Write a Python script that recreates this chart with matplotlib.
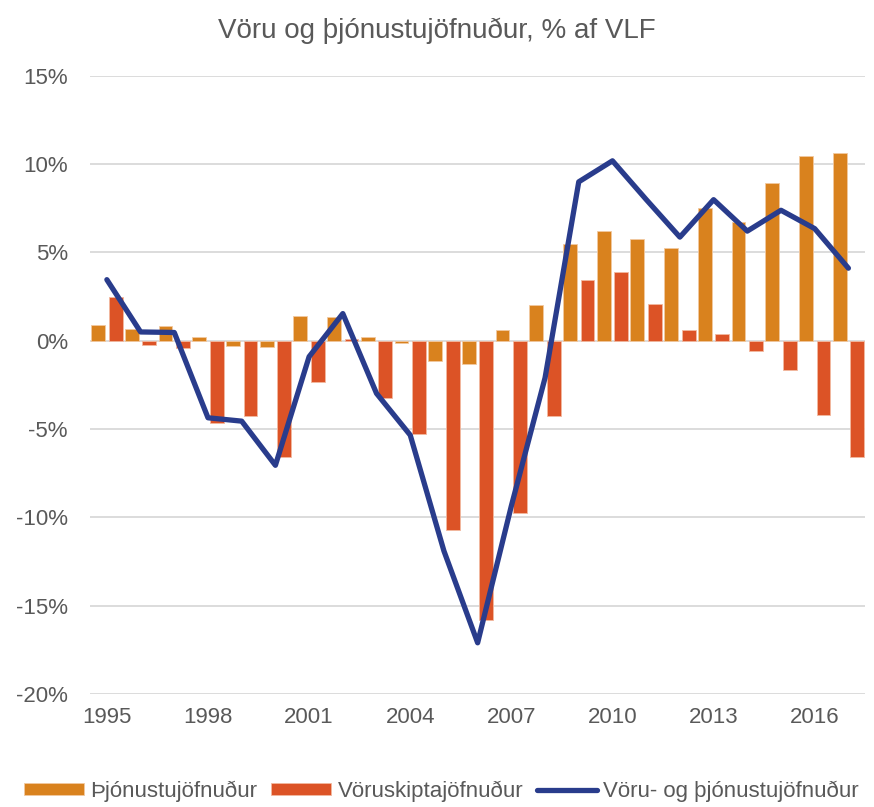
import matplotlib
matplotlib.use("Agg")
import matplotlib.pyplot as plt
import numpy as np

plt.rcParams['font.family'] = ['Liberation Sans', 'DejaVu Sans']

years = list(range(1995, 2018))
services = [0.9, 0.67, 0.82, 0.22, -0.3, -0.34, 1.42, 1.37, 0.22, -0.1, -1.15, -1.34,
            0.6, 2.04, 5.49, 6.23, 5.78, 5.27, 7.5, 6.7, 8.92, 10.49, 10.64]
goods = [2.47, -0.26, -0.43, -4.64, -4.28, -6.59, -2.35, 0.09, -3.26, -5.25, -10.7, -15.8,
         -9.76, -4.25, 3.45, 3.9, 2.1, 0.63, 0.38, -0.57, -1.63, -4.2, -6.59]
total = [3.46, 0.5, 0.47, -4.36, -4.55, -7.05, -0.9, 1.54, -2.98, -5.34, -11.9, -17.1,
         -9.35, -2.1, 9.0, 10.19, 8.0, 5.87, 7.99, 6.21, 7.39, 6.35, 4.11]
yticks = [-20, -15, -10, -5, 0, 5, 10, 15]
labels = ["Þjónustujöfnuður", "Vöruskiptajöfnuður", "Vöru- og þjónustujöfnuður"]
title = "Vöru og þjónustujöfnuður, % af VLF"

c_serv = "#D9821E"
c_goods = "#DC5326"
c_line = "#293C8C"
txt = "#595959"

fig = plt.figure(figsize=(8.74, 8.07), dpi=100)
ax = fig.add_axes([0.103, 0.140, 0.887, 0.766])

x = np.arange(len(years))
w = 0.41
off = 0.26
b1 = ax.bar(x - off, services, w, color=c_serv, edgecolor="#F2C9A0", linewidth=0.6, zorder=2, label=labels[0])
b2 = ax.bar(x + off, goods, w, color=c_goods, edgecolor="#F2B9A0", linewidth=0.6, zorder=2, label=labels[1])
ln, = ax.plot(x, total, color=c_line, linewidth=3.8, solid_joinstyle="round", solid_capstyle="round",
              zorder=3, label=labels[2])

ax.set_xlim(-0.5, len(years) - 0.5)
ax.set_ylim(-20, 15)
ax.set_yticks(yticks)
ax.set_yticklabels([f"{v}%" for v in yticks])
ax.set_xticks(x[::3])
ax.set_xticklabels([str(y) for y in years[::3]])
ax.grid(axis="y", color="#D9D9D9", linewidth=1.3, zorder=0)
ax.set_axisbelow(True)
for s in ax.spines.values():
    s.set_visible(False)
ax.tick_params(axis="both", length=0, labelsize=16, colors=txt)
ax.tick_params(axis="y", pad=16)
ax.tick_params(axis="x", pad=9)

fig.text(0.5, 0.962, title, ha="center", va="center", fontsize=20, color=txt)

leg = fig.legend([b1, b2, ln], labels, loc="center", bbox_to_anchor=(0.505, 0.019), ncol=3,
                 frameon=False, fontsize=16, handlelength=2.7, handleheight=0.45,
                 columnspacing=0.6, handletextpad=0.3)
for t in leg.get_texts():
    t.set_color(txt)

fig.savefig("out.png", dpi=100)
